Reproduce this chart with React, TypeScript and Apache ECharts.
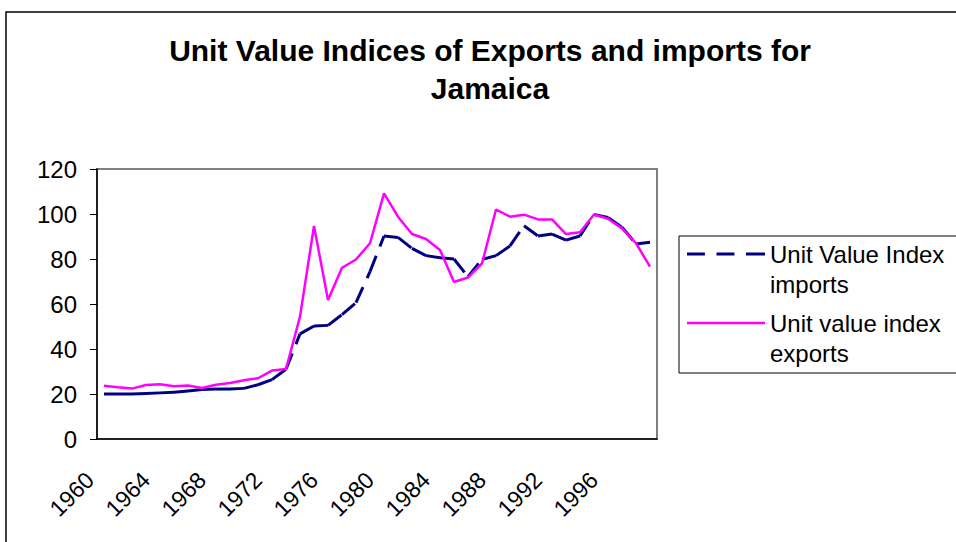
import React, { useEffect, useRef } from "react";
import * as echarts from "echarts";

const years: string[] = [];
for (let y = 1960; y <= 1999; y++) years.push(String(y));

const importsName = "Unit Value Index imports";
const exportsName = "Unit value index exports";

const importsValues = [
  20.0, 20.0, 20.0, 20.2, 20.5, 20.8, 21.3, 22.0, 22.2, 22.2,
  22.5, 24.1, 26.4, 31.0, 46.7, 50.2, 50.5, 55.3, 60.6, 74.4,
  90.2, 89.6, 84.7, 81.5, 80.6, 80.0, 72.1, 79.8, 81.5, 85.8,
  94.8, 90.2, 91.1, 88.4, 90.2, 99.8, 98.5, 94.1, 86.7, 87.4,
];

const exportsValues = [
  23.7, 23.0, 22.4, 24.0, 24.3, 23.4, 23.8, 22.7, 24.1, 24.9,
  26.1, 27.0, 30.4, 31.1, 54.4, 94.7, 61.8, 76.1, 79.8, 87.0,
  109.2, 98.8, 91.1, 88.9, 84.0, 69.8, 71.8, 78.0, 102.0, 98.8,
  99.7, 97.6, 97.6, 91.1, 91.9, 99.8, 97.9, 93.6, 87.0, 76.6,
];

const FONT = "'Liberation Sans', Arial, sans-serif";

export default function App() {
  const ref = useRef<HTMLDivElement>(null);
  useEffect(() => {
    if (!ref.current) return;
    const chart = echarts.init(ref.current, null, { renderer: "svg" });
    chart.setOption({
      animation: false,
      backgroundColor: "#ffffff",
      title: {
        text: "Unit Value Indices of Exports and imports for\nJamaica",
        left: 490,
        top: 31,
        padding: 0,
        textAlign: "center",
        textStyle: {
          fontFamily: FONT,
          fontSize: 30,
          fontWeight: "bold",
          color: "#000",
          lineHeight: 38,
        },
      },
      legend: {
        orient: "vertical",
        left: 687,
        top: 209,
        padding: 0,
        itemGap: -21,
        itemWidth: 78,
        itemHeight: 4,
        data: [
          {
            name: importsName,
            icon: "path://M0,0H17V3H0Z M28,0H45V3H28Z M56,0H74V3H56Z",
            itemStyle: { color: "#000080" },
          },
          {
            name: exportsName,
            icon: "path://M0,0H78V2.5H0Z",
            itemStyle: { color: "#FF00FF" },
          },
        ],
        formatter: (name: string) =>
          "\u00a0\n" +
          name.replace(" imports", "\nimports").replace(" exports", "\nexports"),
        textStyle: {
          fontFamily: FONT,
          fontSize: 24,
          color: "#000",
          lineHeight: 30,
        },
      },
      grid: {
        left: 97,
        top: 169,
        width: 560,
        height: 270,
        show: true,
        borderColor: "#808080",
        borderWidth: 2,
        backgroundColor: "#ffffff",
      },
      xAxis: {
        type: "category",
        data: years,
        boundaryGap: true,
        axisLine: { lineStyle: { color: "#000", width: 1.5 } },
        axisTick: { interval: 0, length: 7, lineStyle: { color: "#000" } },
        axisLabel: {
          interval: 3,
          rotate: 45,
          margin: 23,
          padding: [0, 20, 0, 0],
          fontFamily: FONT,
          fontSize: 23,
          color: "#000",
        },
        splitLine: { show: false },
      },
      yAxis: {
        type: "value",
        min: 0,
        max: 120,
        interval: 20,
        axisLine: { show: true, lineStyle: { color: "#000", width: 1.5 } },
        axisTick: { show: true, length: 7, lineStyle: { color: "#000" } },
        axisLabel: {
          margin: 20,
          fontFamily: FONT,
          fontSize: 24,
          color: "#000",
        },
        splitLine: { show: false },
      },
      series: [
        {
          name: importsName,
          type: "custom",
          itemStyle: { color: "#000080" },
          encode: { x: 0, y: 1 },
          data: importsValues.map((v, i) => [i, v]),
          z: 2,
          renderItem: (params: any, api: any) => {
            const i = params.dataIndex;
            if (i >= importsValues.length - 1) return { type: "group", children: [] };
            const p0 = api.coord([i, importsValues[i]]);
            const p1 = api.coord([i + 1, importsValues[i + 1]]);
            return {
              type: "line",
              shape: { x1: p0[0], y1: p0[1], x2: p1[0], y2: p1[1] },
              style: {
                stroke: "#000080",
                lineWidth: 3,
                lineDash: [17, 10],
                lineCap: "butt",
              },
            };
          },
        },
        {
          name: exportsName,
          type: "line",
          data: exportsValues,
          symbol: "none",
          showSymbol: false,
          z: 3,
          lineStyle: { color: "#FF00FF", width: 2.5 },
          itemStyle: { color: "#FF00FF" },
        },
      ],
      graphic: [
        {
          type: "rect",
          shape: { x: 6, y: 12, width: 1000, height: 600 },
          style: { fill: "none", stroke: "#000", lineWidth: 1.5 },
          silent: true,
          z: -10,
        },
        {
          type: "rect",
          shape: { x: 679, y: 236, width: 300, height: 137 },
          style: { fill: "none", stroke: "#000", lineWidth: 1 },
          silent: true,
        },
      ],
    });
    return () => chart.dispose();
  }, []);
  return (
    <div
      ref={ref}
      style={{ position: "absolute", left: 0, top: 0, width: 956, height: 542 }}
    />
  );
}
